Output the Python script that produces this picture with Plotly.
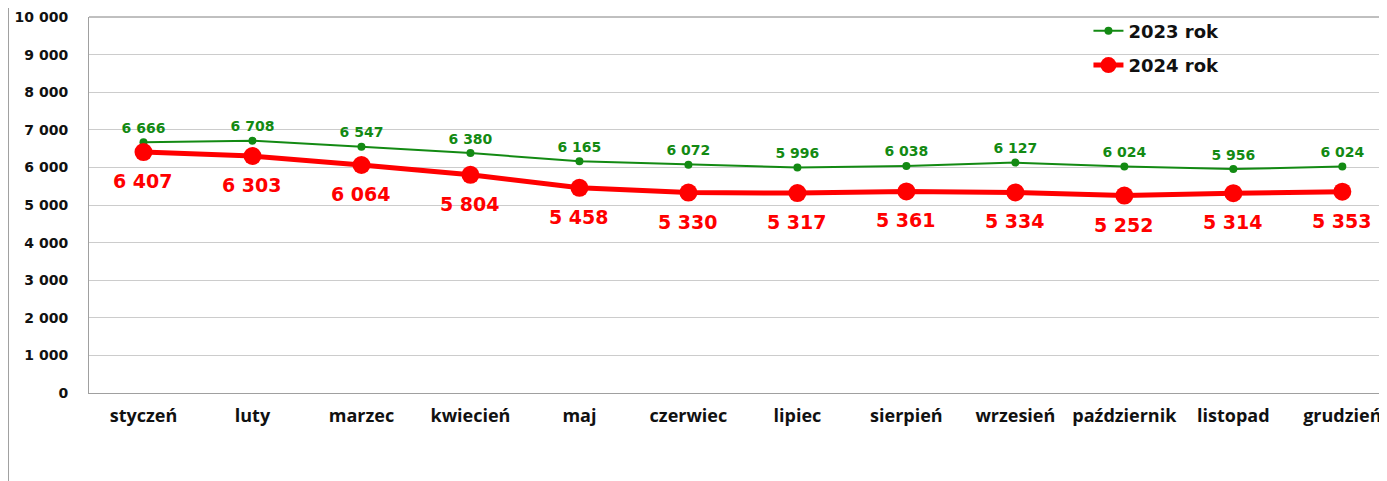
import plotly.graph_objects as go

months = ["styczeń", "luty", "marzec", "kwiecień", "maj", "czerwiec",
          "lipiec", "sierpień", "wrzesień", "październik", "listopad", "grudzień"]
values_2023 = [6666, 6708, 6547, 6380, 6165, 6072, 5996, 6038, 6127, 6024, 5956, 6024]
values_2024 = [6407, 6303, 6064, 5804, 5458, 5330, 5317, 5361, 5334, 5252, 5314, 5353]
y_ticks = [0, 1000, 2000, 3000, 4000, 5000, 6000, 7000, 8000, 9000, 10000]


def fmt(v):
    # thousands separated by a space, as in the original
    return f"{v:,}".replace(",", " ")


fig = go.Figure()

fig.add_trace(go.Scatter(
    x=months, y=values_2023, name="2023 rok", legendgroup="a",
    mode="lines+markers+text",
    line=dict(color="#138a13", width=2),
    marker=dict(color="#138a13", size=8),
    text=[fmt(v) for v in values_2023], textposition="top center",
    textfont=dict(family="DejaVu Sans", size=14, color="#138a13", weight="bold"),
    cliponaxis=False,
))

fig.add_trace(go.Scatter(
    x=months, y=values_2024, name="2024 rok", legendgroup="b",
    mode="lines+markers",
    line=dict(color="#ff0000", width=5),
    marker=dict(color="#ff0000", size=18),
    cliponaxis=False,
))

# red labels sit further below the points than textposition allows
for m, v in zip(months, values_2024):
    fig.add_annotation(x=m, y=v, text=fmt(v), showarrow=False, yshift=-29,
                       font=dict(family="DejaVu Sans", size=19, color="#ff0000", weight="bold"))

# the page body adds an 8px margin, so the figure is sized to fill what is left
fig.update_layout(
    width=1379, height=473,
    margin=dict(l=81, r=0, t=9, b=88, autoexpand=False),
    paper_bgcolor="white", plot_bgcolor="white",
    showlegend=True,
    legend=dict(
        x=0.77, y=1.012, xanchor="left", yanchor="top",
        bgcolor="rgba(0,0,0,0)",
        font=dict(family="DejaVu Sans", size=18, color="#111111", weight="bold"),
        traceorder="grouped", tracegroupgap=8, itemwidth=30,
    ),
    xaxis=dict(
        range=[-0.5, 11.41], showgrid=False, ticks="", automargin=False,
        tickfont=dict(family="Open Sans", size=18, color="#111111", weight="bold"),
        showline=True, linecolor="#a0a0a0", linewidth=1, ticklabelstandoff=6,
    ),
    yaxis=dict(
        range=[0, 10000], tickvals=y_ticks, ticktext=[fmt(v) for v in y_ticks],
        showgrid=True, gridcolor="#cccccc", gridwidth=1, automargin=False,
        zeroline=False, showline=True, linecolor="#a0a0a0", linewidth=1,
        tickfont=dict(family="DejaVu Sans", size=14, color="#111111", weight="bold"),
        ticks="", ticklabelstandoff=17,
    ),
)

# outer frame line at left edge of the page
fig.add_shape(type="line", xref="paper", yref="paper",
              x0=-0.062, x1=-0.062, y0=-0.24, y1=1.03,
              line=dict(color="#a0a0a0", width=1))
# darker top border of plot area
fig.add_shape(type="line", xref="paper", yref="paper",
              x0=0, x1=1, y0=1, y1=1,
              line=dict(color="#808080", width=1))

fig.write_html("out.html")
